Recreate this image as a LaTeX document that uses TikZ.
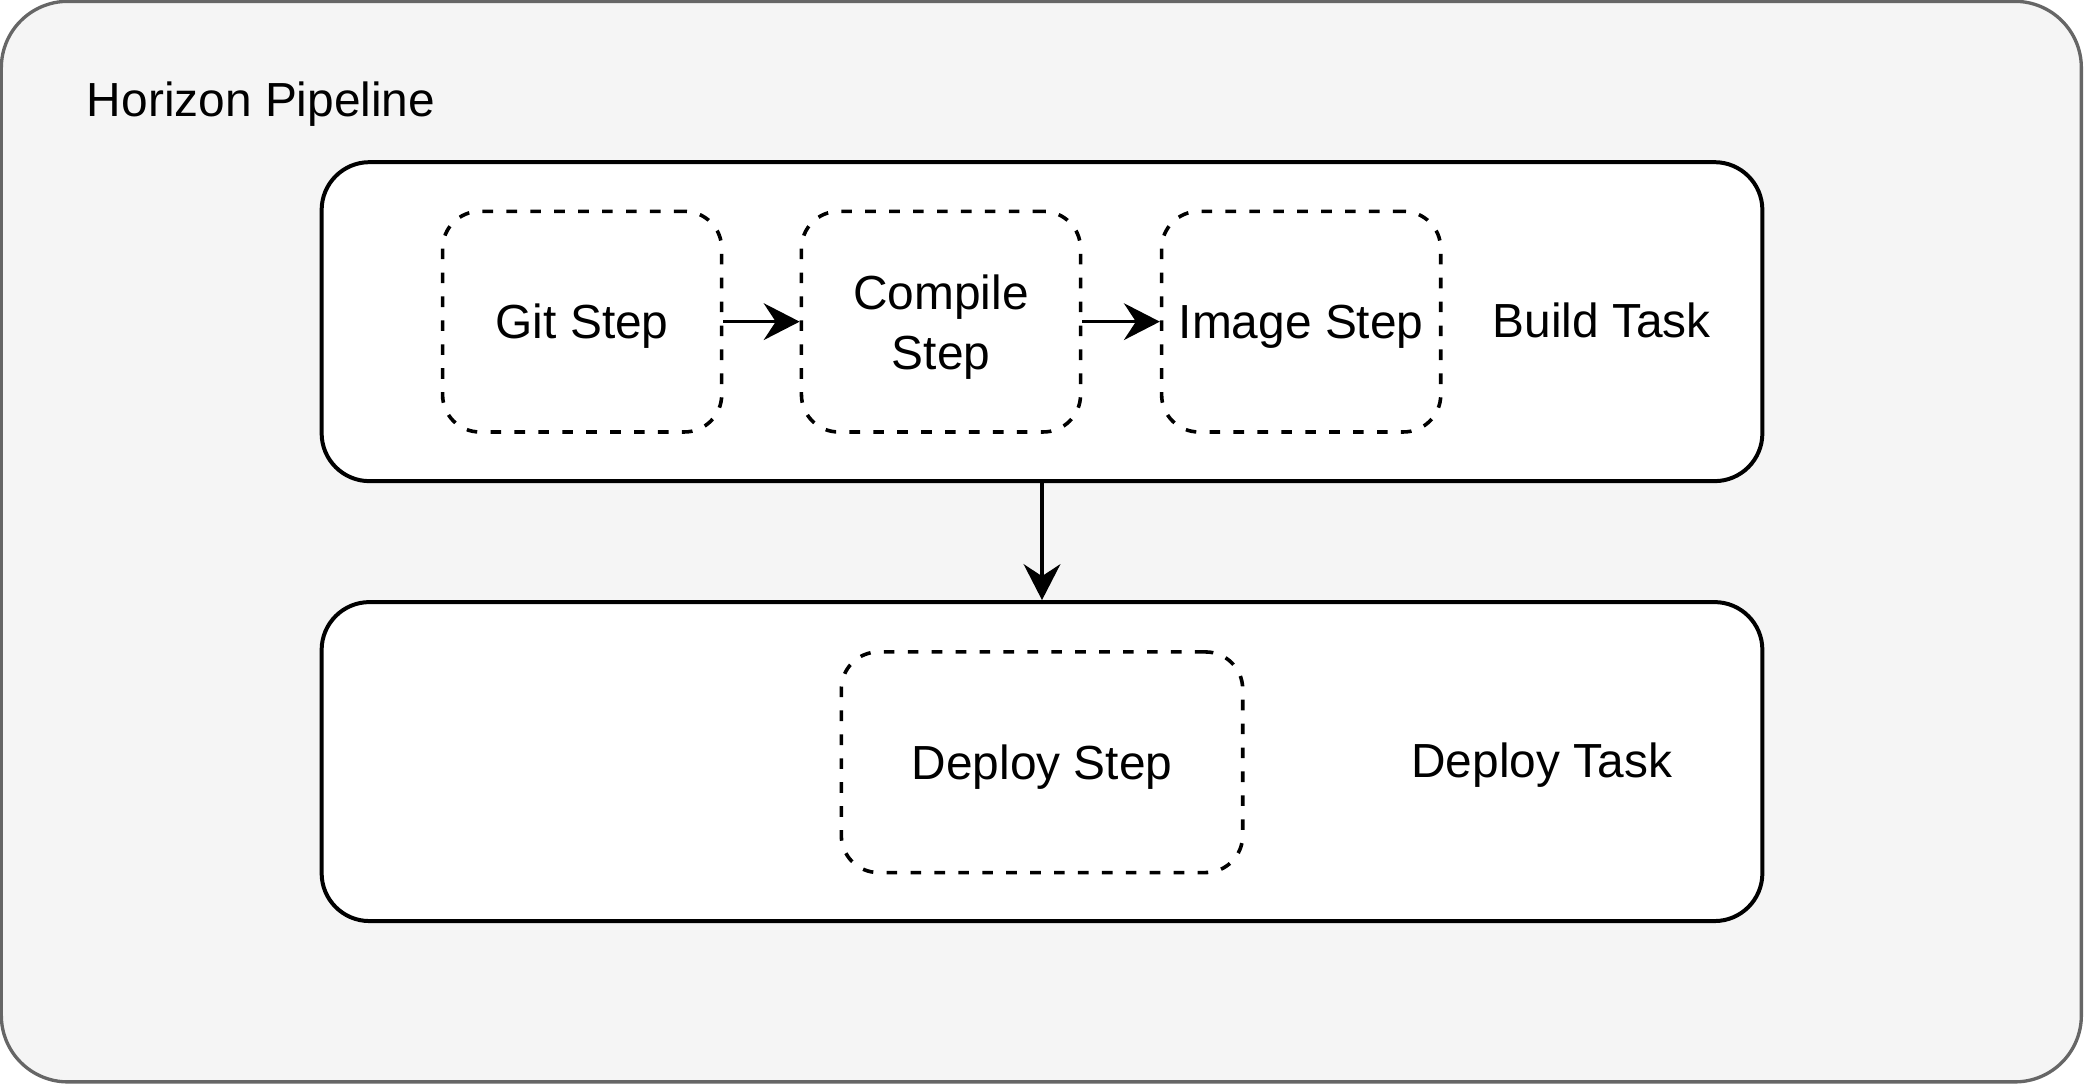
\documentclass[tikz,border=0pt]{standalone}
\usepackage{fontspec}
\setmainfont{Liberation Sans}
\usetikzlibrary{arrows.meta}
\definecolor{outerfill}{HTML}{F5F5F5}
\definecolor{outerdraw}{HTML}{666666}
\begin{document}
\begin{tikzpicture}[x=0.5pt,y=-0.5pt,
  font=\fontsize{18}{22.5}\selectfont,
  outerbox/.style={draw=outerdraw,fill=outerfill,line width=1.25pt,rounded corners=25pt,inner sep=0pt},
  taskbox/.style={draw=black,fill=white,line width=1.5pt,rounded corners=18pt,minimum width=542pt,minimum height=120pt,inner sep=0pt},
  stepbox/.style={draw=black,fill=white,line width=1.35pt,dash pattern=on 4pt off 5pt,rounded corners=14pt,minimum height=83pt,inner sep=0pt},
  lbl/.style={inner sep=0pt,text height=12.9pt,text depth=0pt},
  conn/.style={line width=1.35pt,-{Stealth[length=13.5pt,width=13.8pt,inset=4.5pt]}}
]
\useasboundingbox (0,0) rectangle (1568,815.6);
\node[outerbox,minimum width=782.5pt,minimum height=406.5pt] (pipe) at (783.5,407.5) {};
\node[lbl,anchor=west] (pipelbl) at (65,75) {Horizon Pipeline};
\node[taskbox] (build) at (784,242) {};
\node[taskbox] (deploy) at (784,573) {};
\node[stepbox,minimum width=105pt,label={[lbl]center:Git Step}] (git) at (438,242) {};
\node[stepbox,minimum width=105pt,label={[inner sep=0pt,align=center,yshift=-2pt]center:Compile\\Step}] (compile) at (708,242) {};
\node[stepbox,minimum width=105pt,label={[lbl]center:Image Step}] (image) at (979,242) {};
\node[stepbox,minimum width=151pt,label={[lbl]center:Deploy Step}] (dstep) at (784,573.5) {};
\node[lbl] (buildlbl) at (1205,241) {Build Task};
\node[lbl] (deploylbl) at (1160,572) {Deploy Task};
\draw[conn] (git.east) -- (compile.west);
\draw[conn] (compile.east) -- (image.west);
\draw[conn] (build.south) -- (deploy.north);
\end{tikzpicture}
\end{document}
